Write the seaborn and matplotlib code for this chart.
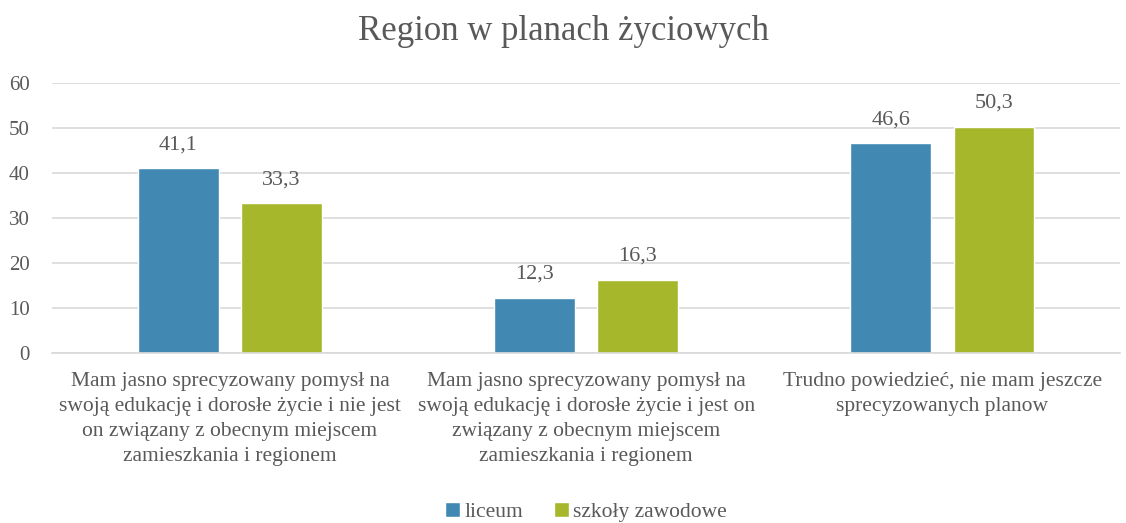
import matplotlib.pyplot as plt
import pandas as pd
import seaborn as sns

# Data
categories = [
    "Mam jasno sprecyzowany pomysł na\nswoją edukację i dorosłe życie i nie jest\non związany z obecnym miejscem\nzamieszkania i regionem",
    "Mam jasno sprecyzowany pomysł na\nswoją edukację i dorosłe życie i jest on\nzwiązany z obecnym miejscem\nzamieszkania i regionem",
    "Trudno powiedzieć, nie mam jeszcze\nsprecyzowanych planow",
]
series = ["liceum", "szkoły zawodowe"]
liceum = [41.1, 12.3, 46.6]
zawodowe = [33.3, 16.3, 50.3]

df = pd.DataFrame({
    "category": categories * 2,
    "group": [series[0]] * 3 + [series[1]] * 3,
    "value": liceum + zawodowe,
})

sns.set_style("white")
plt.rcParams["font.family"] = ["Liberation Serif", "DejaVu Serif"]
text_color = "#595959"
palette = {"liceum": "#4189B3", "szkoły zawodowe": "#A6B72B"}

fig = plt.figure(figsize=(11.26, 5.23), dpi=100)
ax = fig.add_axes([0.046, 0.325, 0.949, 0.516])

sns.barplot(data=df, x="category", y="value", hue="group", order=categories,
            hue_order=series, palette=palette, width=0.58, gap=0.22,
            saturation=1, ax=ax)

for container in ax.containers:
    ax.bar_label(container, labels=[f"{v:.1f}".replace(".", ",") for v in container.datavalues],
                 padding=10, fontsize=16, color=text_color)

ax.set_ylim(0, 60)
ax.set_yticks(range(0, 61, 10))
ax.yaxis.grid(True, color="#D9D9D9", linewidth=1.2)
ax.set_axisbelow(True)
for s in ["top", "right", "left"]:
    ax.spines[s].set_visible(False)
ax.spines["bottom"].set_color("#D9D9D9")
ax.spines["bottom"].set_linewidth(1.2)
ax.tick_params(axis="both", length=0, labelsize=15, labelcolor=text_color)
ax.tick_params(axis="y", pad=16)
ax.tick_params(axis="x", pad=14)
for lbl in ax.get_xticklabels():
    lbl.set_linespacing(1.42)
    lbl.set_fontsize(15.5)
ax.set_xlabel("")
ax.set_ylabel("")
fig.text(0.5, 1 - 32 / 523, "Region w planach życiowych", fontsize=25,
         color=text_color, ha="center", va="center")

ax.legend(loc="center", bbox_to_anchor=(0.5, -0.59), ncol=2, frameon=False,
          fontsize=15.5, labelcolor=text_color, handlelength=0.7, handleheight=0.7,
          handletextpad=0.2, columnspacing=1.4)

fig.savefig("out.png", dpi=100)
